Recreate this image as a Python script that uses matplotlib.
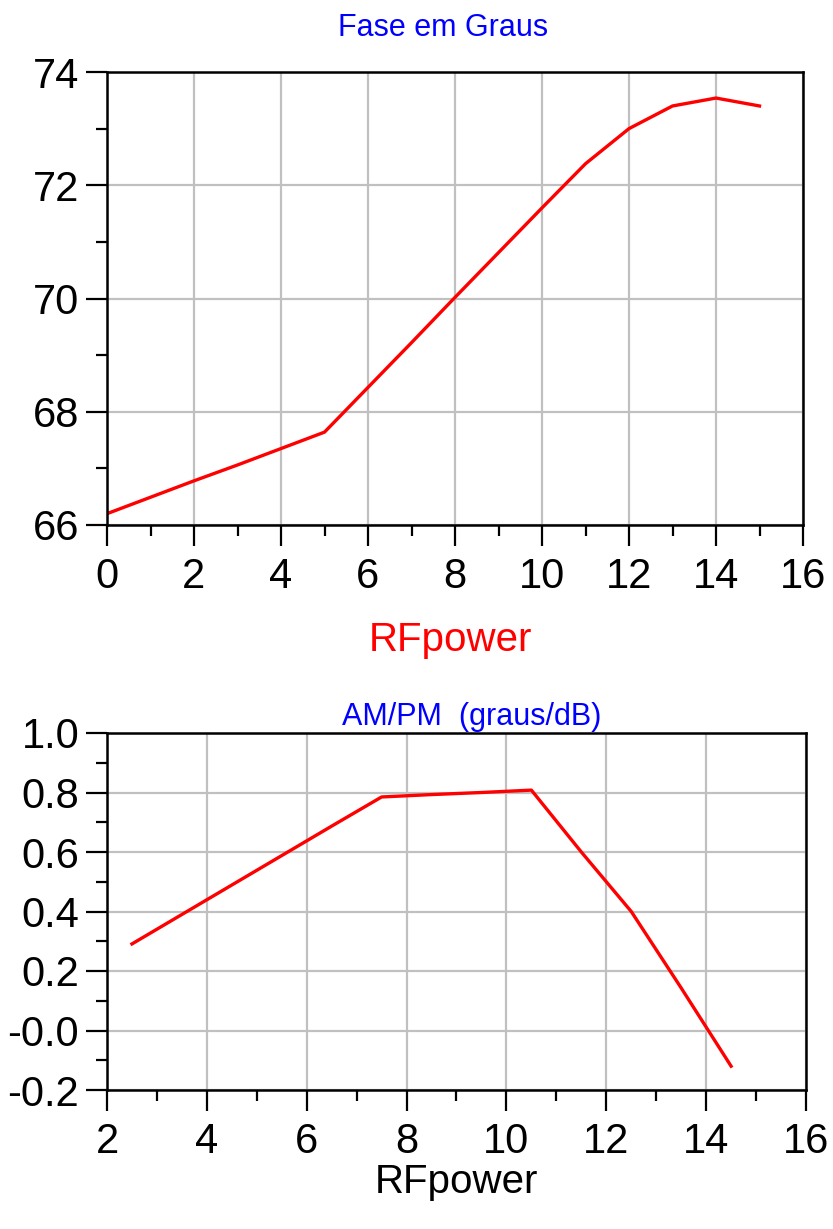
import matplotlib
matplotlib.use("Agg")
from matplotlib import pyplot as plt
from matplotlib.ticker import MultipleLocator, FixedLocator

plt.rcParams['font.family'] = ['Liberation Sans', 'DejaVu Sans']

# fase em graus vs RF power
rf_power = [0, 1, 2, 3, 4, 5, 6, 7, 8, 9, 10, 11, 12, 13, 14, 15]
fase = [66.2, 66.49, 66.78, 67.06, 67.35, 67.64, 68.43, 69.22, 70.02,
        70.81, 71.6, 72.38, 73.0, 73.4, 73.54, 73.4]

# AM/PM (graus/dB) at mid points
rf_mid = [2.5, 3.5, 4.5, 5.5, 6.5, 7.5, 8.5, 9.5, 10.5, 11.5, 12.5, 13.5, 14.5]
ampm = [0.291, 0.390, 0.489, 0.588, 0.687, 0.785, 0.793, 0.800, 0.808,
        0.600, 0.400, 0.143, -0.12]

ampm_ticks = [-0.2, 0.0, 0.2, 0.4, 0.6, 0.8, 1.0]
ampm_ticklabels = ['-0.2', '-0.0', '0.2', '0.4', '0.6', '0.8', '1.0']

W, H = 833, 1229
fig = plt.figure(figsize=(W / 100, H / 100), dpi=100)

def style(ax):
    for s in ax.spines.values():
        s.set_linewidth(1.8)
        s.set_color('black')
    ax.grid(True, which='major', color='#c0c0c0', linewidth=1.6)
    ax.set_axisbelow(True)
    ax.tick_params(which='major', direction='out', length=15, width=1.6,
                   labelsize=30, pad=5)
    ax.tick_params(which='minor', direction='out', length=8, width=1.6)
    ax.tick_params(axis='x', which='major', pad=8)

# top plot
ax1 = fig.add_axes([107 / W, 1 - 525 / H, (803 - 107) / W, (525 - 72) / H])
ax1.plot(rf_power, fase, color='red', linewidth=2.4)
ax1.set_xlim(0, 16)
ax1.set_ylim(66, 74)
ax1.xaxis.set_major_locator(MultipleLocator(2))
ax1.xaxis.set_minor_locator(MultipleLocator(1))
ax1.yaxis.set_major_locator(MultipleLocator(2))
ax1.yaxis.set_minor_locator(MultipleLocator(1))
style(ax1)

# bottom plot
ax2 = fig.add_axes([107 / W, 1 - 1090 / H, (806 - 107) / W, (1090 - 733) / H])
ax2.plot(rf_mid, ampm, color='red', linewidth=2.4)
ax2.set_xlim(2, 16)
ax2.set_ylim(-0.2, 1.0)
ax2.xaxis.set_major_locator(MultipleLocator(2))
ax2.xaxis.set_minor_locator(MultipleLocator(1))
ax2.yaxis.set_major_locator(FixedLocator(ampm_ticks))
ax2.set_yticklabels(ampm_ticklabels)
ax2.yaxis.set_minor_locator(MultipleLocator(0.1))
style(ax2)

fig.text(443 / W, 1 - 28 / H, 'Fase em Graus', color='blue', fontsize=22,
         ha='center', va='center')
fig.text(450 / W, 1 - 640 / H, 'RFpower', color='red', fontsize=29,
         ha='center', va='center')
fig.text(472 / W, 1 - 717 / H, 'AM/PM  (graus/dB)', color='blue', fontsize=22,
         ha='center', va='center')
fig.text(456 / W, 1 - 1182 / H, 'RFpower', color='black', fontsize=29,
         ha='center', va='center')

plt.savefig('out.png', dpi=100)
